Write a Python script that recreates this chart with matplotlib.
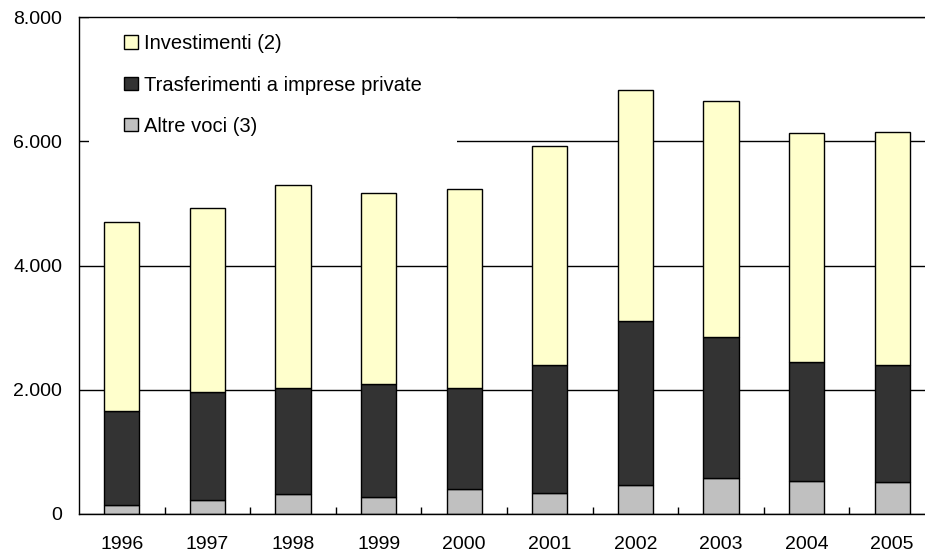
"""Stacked bars: investimenti, trasferimenti, altre voci (1996-2005)."""

import matplotlib

matplotlib.use("Agg")
import matplotlib.pyplot as plt
import numpy as np
from matplotlib.patches import Patch
from matplotlib.ticker import FuncFormatter, MultipleLocator


YEARS = ["1996", "1997", "1998", "1999", "2000", "2001", "2002", "2003", "2004", "2005"]
ALTRE_VOCI = [140, 220, 327, 269, 407, 333, 467, 584, 536, 515]
TRASFERIMENTI = [1518, 1739, 1701, 1824, 1621, 2071, 2645, 2260, 1916, 1883]
INVESTIMENTI = [3047, 2972, 3263, 3079, 3203, 3524, 3713, 3799, 3676, 3746]

LABELS = ["Investimenti (2)", "Trasferimenti a imprese private", "Altre voci (3)"]
COLORS = {"inv": "#ffffcc", "tra": "#333333", "alt": "#c0c0c0"}

plt.rcParams["font.family"] = ["Liberation Sans", "DejaVu Sans"]


def it_thousands(v, _pos):
    return f"{int(v):,}".replace(",", ".")


def main() -> None:
    fig = plt.figure(figsize=(9.25, 5.55), dpi=100)
    ax = fig.add_axes([79 / 925, 41 / 555, 856 / 925, 497 / 555])

    x = np.arange(len(YEARS))
    alt = np.array(ALTRE_VOCI)
    tra = np.array(TRASFERIMENTI)
    inv = np.array(INVESTIMENTI)
    kw = dict(width=0.41, edgecolor="black", linewidth=1.0, zorder=2)
    ax.bar(x, alt, color=COLORS["alt"], **kw)
    ax.bar(x, tra, bottom=alt, color=COLORS["tra"], **kw)
    ax.bar(x, inv, bottom=alt + tra, color=COLORS["inv"], **kw)

    ax.set_xlim(-0.5, len(YEARS) - 0.5)
    ax.set_ylim(0, 8000)
    ax.yaxis.set_major_locator(MultipleLocator(2000))
    ax.yaxis.set_major_formatter(FuncFormatter(it_thousands))
    ax.set_axisbelow(True)
    ax.grid(axis="y", color="black", linewidth=1.0)

    ax.set_xticks(x)
    ax.set_xticklabels(YEARS)
    ax.set_xticks(x[:-1] + 0.5, minor=True)
    ax.tick_params(axis="x", which="major", length=0, pad=16, labelsize=14)
    ax.tick_params(axis="x", which="minor", direction="in", length=5, width=1)
    ax.tick_params(axis="y", length=0, pad=12, labelsize=14)

    for side in ("right",):
        ax.spines[side].set_visible(False)
    for side in ("left", "bottom", "top"):
        ax.spines[side].set_linewidth(1.0)
        ax.spines[side].set_zorder(3)

    handles = [
        Patch(facecolor=COLORS["inv"], edgecolor="black", linewidth=1.0),
        Patch(facecolor=COLORS["tra"], edgecolor="black", linewidth=1.0),
        Patch(facecolor=COLORS["alt"], edgecolor="black", linewidth=1.0),
    ]
    leg = ax.legend(
        handles, LABELS, loc="upper left", bbox_to_anchor=(0.0117, 1.036),
        fontsize=14.5, frameon=True, fancybox=False, edgecolor="none",
        facecolor="white", framealpha=1.0, borderpad=1.75,
        handlelength=0.67, handleheight=0.67, handletextpad=0.3,
        labelspacing=1.1, borderaxespad=0,
    )
    leg.set_zorder(1)

    fig.savefig("out.png", dpi=100)
    plt.close(fig)


if __name__ == "__main__":
    main()
